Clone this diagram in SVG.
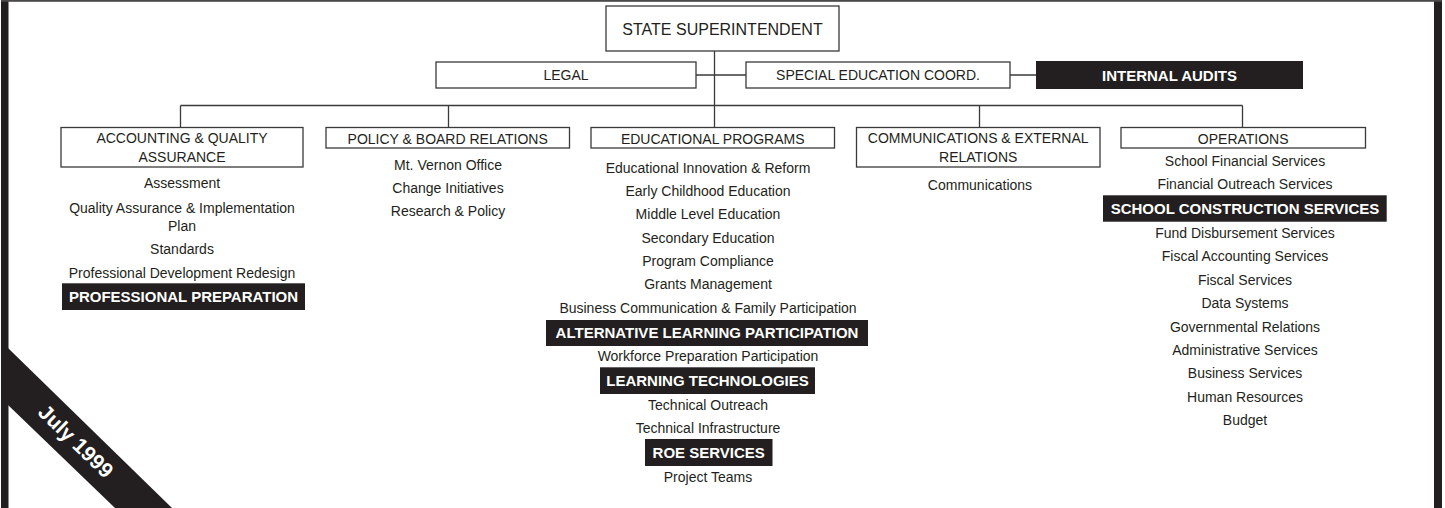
<svg xmlns="http://www.w3.org/2000/svg" width="1445" height="508" viewBox="0 0 1445 508">
<style>
.box{fill:#fff;stroke:#3a3a3a;stroke-width:1.3}
.ln{fill:none;stroke:#3a3a3a;stroke-width:1.3}
.t{font-family:"Liberation Sans",Arial,sans-serif;font-size:14px;fill:#231f20;text-anchor:middle}
.big{font-size:16px}
.blk{fill:#231f20}
.bt{font-family:"Liberation Sans",Arial,sans-serif;font-size:15px;font-weight:bold;fill:#fff;text-anchor:middle}
</style>
<rect width="1445" height="508" fill="#fff"/>
<g id="frame">
<rect x="1" y="0" width="7.5" height="508" class="blk"/>
<rect x="1434" y="0" width="8" height="508" class="blk"/>
<rect x="1" y="0" width="1441" height="1.8" fill="#4a4a4a"/>
</g>
<g id="connectors">
<path class="ln" d="M714.5 51V127.5M696 75H746M1010 75H1036M180.5 105.5H1242.5M180.5 105.5V127.5M448.5 105.5V127.5M979.5 105.5V127.5M1242.5 105.5V127.5"/>
</g>
<g id="superintendent">
<rect class="box" x="606" y="6" width="233" height="45"/>
<text class="t big" x="722.5" y="34.5">STATE SUPERINTENDENT</text>
</g>
<g id="legal">
<rect class="box" x="436" y="62" width="260" height="26"/>
<text class="t" x="566" y="80">LEGAL</text>
</g>
<g id="special-education">
<rect class="box" x="746" y="62" width="264" height="26"/>
<text class="t" x="878" y="80">SPECIAL EDUCATION COORD.</text>
</g>
<g id="internal-audits">
<rect class="blk" x="1036" y="61" width="267" height="28"/>
<text class="bt" x="1169.5" y="80.5">INTERNAL AUDITS</text>
</g>
<g id="accounting">
<rect class="box" x="61" y="127.5" width="242" height="39.5"/>
<text class="t" x="182" y="142.5">ACCOUNTING &amp; QUALITY</text>
<text class="t" x="182" y="162">ASSURANCE</text>
<text class="t" x="182" y="188.3">Assessment</text>
<text class="t" x="182" y="213.3">Quality Assurance &amp; Implementation</text>
<text class="t" x="182" y="230.7">Plan</text>
<text class="t" x="182" y="254">Standards</text>
<text class="t" x="182" y="278.3">Professional Development Redesign</text>
<rect class="blk" x="62" y="283.3" width="243" height="26.7"/>
<text class="bt" x="183.5" y="302">PROFESSIONAL PREPARATION</text>
</g>
<g id="policy">
<rect class="box" x="326" y="127.5" width="243.5" height="20.5"/>
<text class="t" x="447.7" y="143.5">POLICY &amp; BOARD RELATIONS</text>
<text class="t" x="448" y="169.5">Mt. Vernon Office</text>
<text class="t" x="448" y="192.5">Change Initiatives</text>
<text class="t" x="448" y="215.5">Research &amp; Policy</text>
</g>
<g id="educational-programs">
<rect class="box" x="591" y="127.5" width="243.5" height="20.5"/>
<text class="t" x="712.7" y="143.5">EDUCATIONAL PROGRAMS</text>
<text class="t" x="708" y="172.7">Educational Innovation &amp; Reform</text>
<text class="t" x="708" y="196">Early Childhood Education</text>
<text class="t" x="708" y="219.3">Middle Level Education</text>
<text class="t" x="708" y="242.7">Secondary Education</text>
<text class="t" x="708" y="266">Program Compliance</text>
<text class="t" x="708" y="289.3">Grants Management</text>
<text class="t" x="708" y="312.7">Business Communication &amp; Family Participation</text>
<rect class="blk" x="546" y="320" width="322" height="26"/>
<text class="bt" x="707" y="338">ALTERNATIVE LEARNING PARTICIPATION</text>
<text class="t" x="708" y="360.7">Workforce Preparation Participation</text>
<rect class="blk" x="600" y="367.3" width="215" height="26.7"/>
<text class="bt" x="707.5" y="386">LEARNING TECHNOLOGIES</text>
<text class="t" x="708" y="410">Technical Outreach</text>
<text class="t" x="708" y="433.3">Technical Infrastructure</text>
<rect class="blk" x="645" y="439" width="127.5" height="27"/>
<text class="bt" x="708.7" y="458">ROE SERVICES</text>
<text class="t" x="708" y="481.7">Project Teams</text>
</g>
<g id="communications">
<rect class="box" x="856.5" y="127.5" width="243.5" height="39.5"/>
<text class="t" x="978.2" y="142.5">COMMUNICATIONS &amp; EXTERNAL</text>
<text class="t" x="978.2" y="162">RELATIONS</text>
<text class="t" x="980" y="190">Communications</text>
</g>
<g id="operations">
<rect class="box" x="1121" y="127.5" width="244.5" height="20.5"/>
<text class="t" x="1243.2" y="143.5">OPERATIONS</text>
<text class="t" x="1245" y="166">School Financial Services</text>
<text class="t" x="1245" y="189.3">Financial Outreach Services</text>
<rect class="blk" x="1103" y="195.3" width="283.7" height="26.4"/>
<text class="bt" x="1245" y="213.7">SCHOOL CONSTRUCTION SERVICES</text>
<text class="t" x="1245" y="238">Fund Disbursement Services</text>
<text class="t" x="1245" y="261.3">Fiscal Accounting Services</text>
<text class="t" x="1245" y="285">Fiscal Services</text>
<text class="t" x="1245" y="308.3">Data Systems</text>
<text class="t" x="1245" y="332">Governmental Relations</text>
<text class="t" x="1245" y="355">Administrative Services</text>
<text class="t" x="1245" y="378">Business Services</text>
<text class="t" x="1245" y="401.7">Human Resources</text>
<text class="t" x="1245" y="424.7">Budget</text>
</g>
<g id="date-banner">
<polygon class="blk" points="8,348 172,508 115,508 8,405"/>
<text class="bt" transform="translate(76,441) rotate(44)" y="7.5" style="font-size:21px">July 1999</text>
</g>
</svg>
